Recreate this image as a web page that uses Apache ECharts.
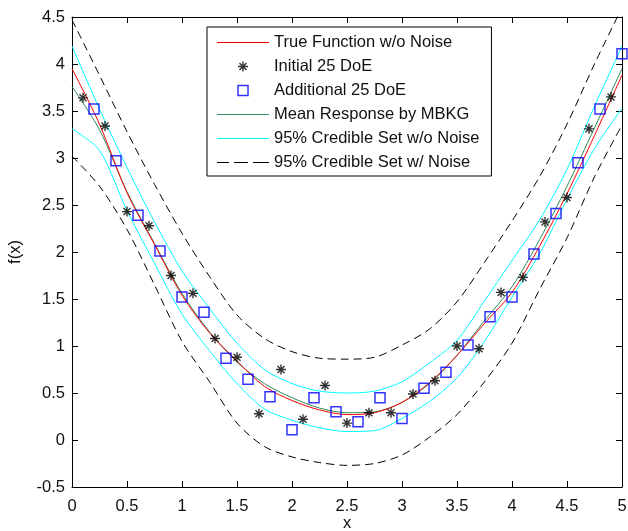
<!DOCTYPE html>
<html><head><meta charset="utf-8">
<script src="https://cdn.jsdelivr.net/npm/echarts@6/dist/echarts.min.js"></script>
<style>html,body{margin:0;padding:0;background:#fff}#c{width:628px;height:531px}</style>
</head><body><div id="c"></div>
<script>
// Curve sample abscissae
const xCurve = [0, 0.25, 0.5, 0.75, 1, 1.25, 1.5, 1.75, 2, 2.25, 2.5, 2.75, 3, 3.25, 3.5, 3.75, 4, 4.25, 4.5, 4.75, 5];
// True function w/o noise (red)
const trueF = [3.95, 3.36, 2.63, 2.08, 1.54, 1.14, 0.84, 0.57, 0.42, 0.32, 0.27, 0.29, 0.40, 0.61, 0.90, 1.24, 1.57, 2.06, 2.62, 3.24, 3.88];
// Mean response by MBKG (green)
const meanF = [3.76, 3.30, 2.64, 2.09, 1.56, 1.15, 0.83, 0.60, 0.45, 0.34, 0.29, 0.30, 0.40, 0.60, 0.90, 1.27, 1.63, 2.13, 2.70, 3.32, 3.95];
// 95% credible set w/o noise (cyan)
const cyanUp = [4.19, 3.52, 2.90, 2.32, 1.80, 1.40, 1.03, 0.75, 0.60, 0.52, 0.50, 0.52, 0.62, 0.82, 1.06, 1.48, 1.91, 2.34, 2.88, 3.55, 4.19];
const cyanLo = [3.31, 3.08, 2.44, 1.88, 1.34, 0.95, 0.60, 0.33, 0.21, 0.13, 0.09, 0.10, 0.23, 0.41, 0.66, 1.05, 1.52, 1.98, 2.56, 3.10, 3.53];
// 95% credible set w/ noise (dashed)
const dashUp = [4.47, 3.88, 3.28, 2.72, 2.20, 1.74, 1.33, 1.08, 0.94, 0.87, 0.86, 0.88, 1.01, 1.18, 1.47, 1.89, 2.33, 2.80, 3.36, 4.00, 4.60];
const dashLo = [3.02, 2.70, 2.24, 1.65, 1.05, 0.62, 0.18, -0.07, -0.18, -0.24, -0.27, -0.25, -0.16, 0.03, 0.27, 0.62, 1.03, 1.60, 2.15, 2.80, 3.35];
// Initial 25 DoE (stars)
const starX = [0.1, 0.3, 0.5, 0.7, 0.9, 1.1, 1.3, 1.5, 1.7, 1.9, 2.1, 2.3, 2.5, 2.7, 2.9, 3.1, 3.3, 3.5, 3.7, 3.9, 4.1, 4.3, 4.5, 4.7, 4.9];
const starY = [3.64, 3.34, 2.43, 2.28, 1.75, 1.56, 1.08, 0.88, 0.28, 0.75, 0.22, 0.58, 0.18, 0.29, 0.29, 0.49, 0.63, 1.00, 0.97, 1.57, 1.73, 2.32, 2.58, 3.31, 3.65];
// Additional 25 DoE (squares)
const sqX = [0.2, 0.4, 0.6, 0.8, 1.0, 1.2, 1.4, 1.6, 1.8, 2.0, 2.2, 2.4, 2.6, 2.8, 3.0, 3.2, 3.4, 3.6, 3.8, 4.0, 4.2, 4.4, 4.6, 4.8, 5.0];
const sqY = [3.52, 2.97, 2.39, 2.01, 1.52, 1.36, 0.87, 0.645, 0.46, 0.11, 0.45, 0.30, 0.195, 0.45, 0.23, 0.55, 0.72, 1.01, 1.31, 1.52, 1.98, 2.41, 2.95, 3.52, 4.11];
// Axis ticks
const xTicks = {min: 0, max: 5, step: 0.5};
const yTicks = {min: -0.5, max: 4.5, step: 0.5};
const names = ['True Function w/o Noise', 'Initial 25 DoE', 'Additional 25 DoE', 'Mean Response by MBKG', '95% Credible Set w/o Noise', '95% Credible Set w/ Noise'];

const FONT = 'Arial, "Liberation Sans", sans-serif';
const FS = 16.5;
const pairs = (xs, ys) => xs.map((x, i) => [x, ys[i]]);
const STAR = 'path://M43 0L57 0L57 100L43 100Z M0 43L100 43L100 57L0 57Z M10 20L20 10L90 80L80 90Z M80 10L90 20L20 90L10 80Z';
const SOLID_ICON = 'path://M0 0L52 0L52 1.2L0 1.2Z';
const DASH_ICON = 'path://M0 0L12 0L12 1.2L0 1.2Z M17 0L31 0L31 1.2L17 1.2Z M36 0L52 0L52 1.2L36 1.2Z';
const SQUARE_ICON = 'path://M0 0L10 0L10 10L0 10Z';

function xAx(pos, show) {
  return {type: 'value', min: xTicks.min, max: xTicks.max, interval: xTicks.step, position: pos,
    axisLine: {show: true, onZero: false, lineStyle: {color: '#000', width: 1}},
    axisTick: {show: true, inside: true, length: 6, lineStyle: {color: '#000', width: 1}},
    axisLabel: {show: show, color: '#111', fontSize: FS, fontFamily: FONT, margin: 11},
    splitLine: {show: false}};
}
function yAx(pos, show) {
  return {type: 'value', min: yTicks.min, max: yTicks.max, interval: yTicks.step, position: pos,
    axisLine: {show: true, onZero: false, lineStyle: {color: '#000', width: 1}},
    axisTick: {show: true, inside: true, length: 6, lineStyle: {color: '#000', width: 1}},
    axisLabel: {show: show, color: '#111', fontSize: FS, fontFamily: FONT, margin: 7},
    splitLine: {show: false}};
}
const xb = xAx('bottom', true);
xb.name = 'x'; xb.nameLocation = 'middle'; xb.nameGap = 28; xb.nameMoveOverlap = false;
xb.nameTextStyle = {color: '#111', fontSize: FS, fontFamily: FONT};
const yl = yAx('left', true);
yl.name = 'f(x)'; yl.nameLocation = 'middle'; yl.nameGap = 48; yl.nameMoveOverlap = false;
yl.nameTextStyle = {color: '#111', fontSize: FS, fontFamily: FONT};

function lineS(name, ys, color, type, z) {
  return {name: name, type: 'line', data: pairs(xCurve, ys), symbol: 'none', smooth: 0.3,
    lineStyle: {color: color, width: 1, type: type}, itemStyle: {color: color}, z: z, silent: true};
}

const chart = echarts.init(document.getElementById('c'), null, {renderer: 'canvas'});
chart.setOption({
  animation: false,
  backgroundColor: '#fff',
  grid: {left: 72, right: 6, top: 17, bottom: 44, containLabel: false, outerBoundsMode: 'none'},
  xAxis: [xb, xAx('top', false)],
  yAxis: [yl, yAx('right', false)],
  legend: {
    orient: 'vertical', left: 207, top: 27,
    padding: [7, 12, 5, 10], itemGap: 7, itemWidth: 52, itemHeight: 10,
    backgroundColor: '#fff', borderColor: '#000', borderWidth: 1, borderRadius: 0,
    selectedMode: false, symbolKeepAspect: true,
    textStyle: {color: '#111', fontSize: FS, fontFamily: FONT},
    data: [
      {name: names[0], icon: SOLID_ICON, itemStyle: {color: '#ff0000', borderWidth: 0}},
      {name: names[1], icon: STAR, itemStyle: {color: '#000', borderWidth: 0}},
      {name: names[2], icon: SQUARE_ICON, itemStyle: {color: 'rgba(0,0,0,0)', borderColor: '#0000ff', borderWidth: 1.5}},
      {name: names[3], icon: SOLID_ICON, itemStyle: {color: '#2e8b57', borderWidth: 0}},
      {name: names[4], icon: SOLID_ICON, itemStyle: {color: '#00ffff', borderWidth: 0}},
      {name: names[5], icon: DASH_ICON, itemStyle: {color: '#000', borderWidth: 0}}
    ]
  },
  series: [
    lineS(names[5], dashUp, '#000', [8, 5], 2),
    lineS(names[5], dashLo, '#000', [8, 5], 2),
    lineS(names[4], cyanUp, '#00ffff', 'solid', 3),
    lineS(names[4], cyanLo, '#00ffff', 'solid', 3),
    lineS(names[3], meanF, '#2e8b57', 'solid', 4),
    lineS(names[0], trueF, '#ff0000', 'solid', 5),
    {name: names[1], type: 'scatter', data: pairs(starX, starY), symbol: STAR, symbolSize: 10,
      itemStyle: {color: '#000'}, z: 6, silent: true},
    {name: names[2], type: 'scatter', data: pairs(sqX, sqY), symbol: 'rect', symbolSize: 10,
      itemStyle: {color: 'rgba(0,0,0,0)', borderColor: '#0000ff', borderWidth: 1.5}, z: 7, silent: true}
  ]
});
</script>
</body></html>
